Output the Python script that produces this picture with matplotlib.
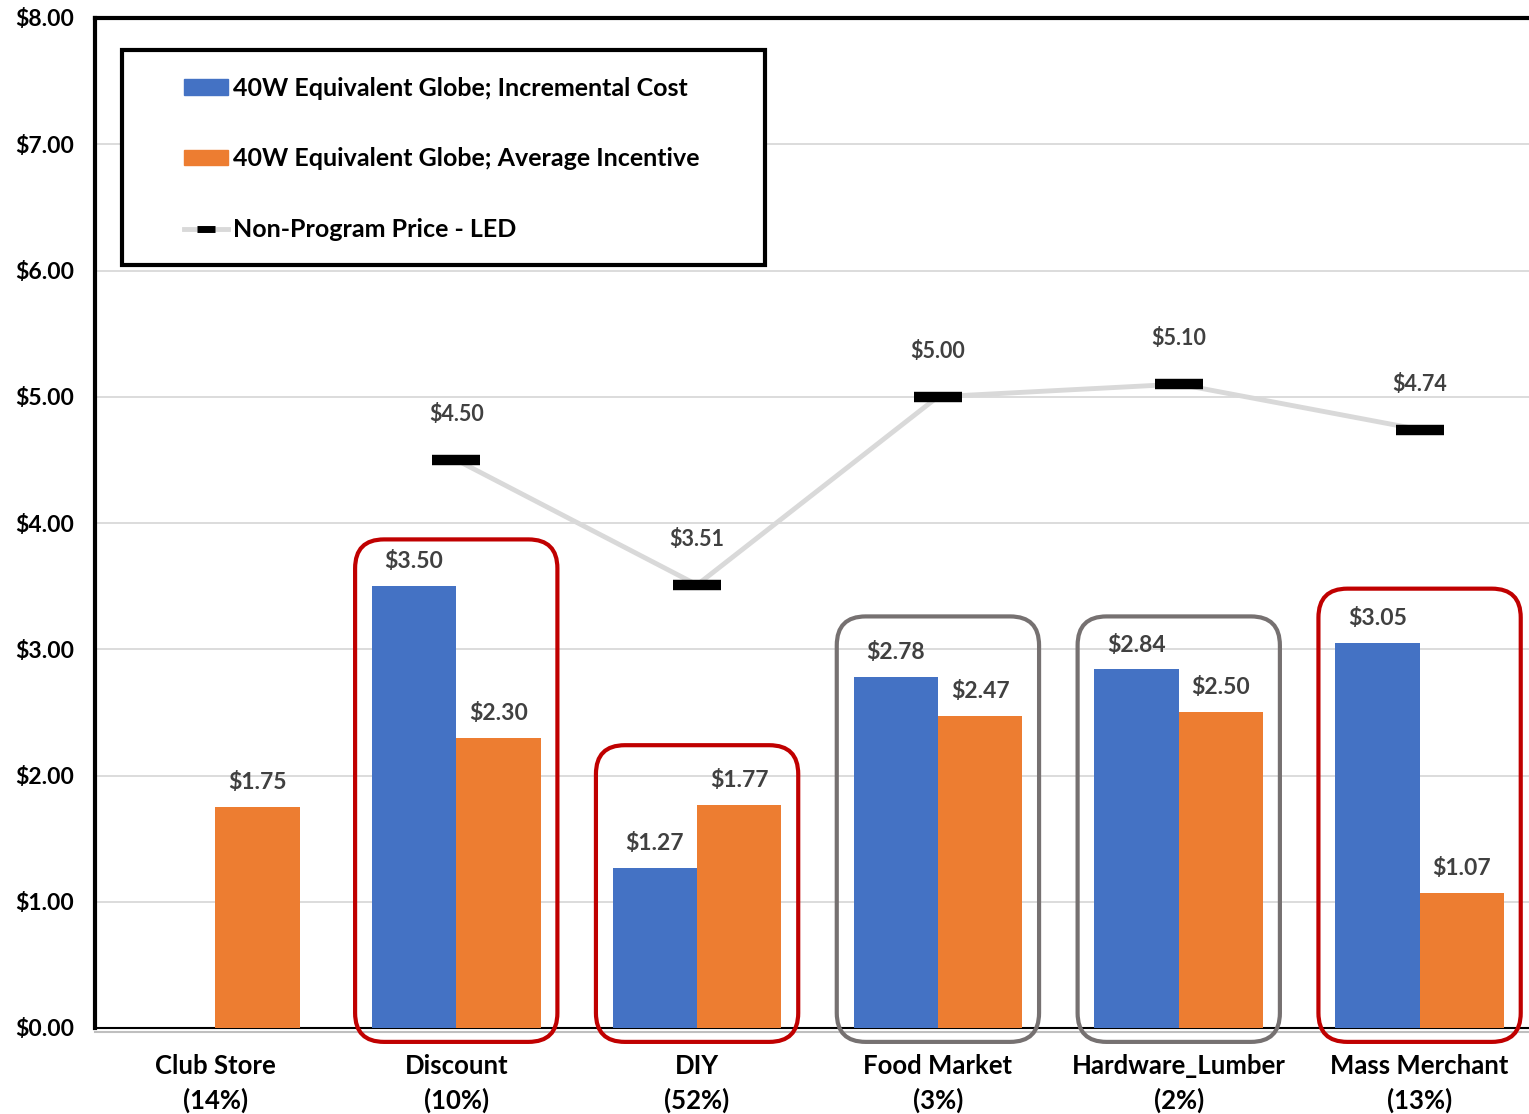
import numpy as np
import matplotlib.pyplot as plt
from matplotlib.patches import FancyBboxPatch, Patch, Rectangle
from matplotlib.lines import Line2D

plt.rcParams['font.family'] = ['Lato', 'DejaVu Sans']

categories = ['Club Store\n(14%)', 'Discount\n(10%)', 'DIY\n(52%)',
              'Food Market\n(3%)', 'Hardware_Lumber\n(2%)', 'Mass Merchant\n(13%)']
incremental_cost = [np.nan, 3.50, 1.27, 2.78, 2.84, 3.05]
avg_incentive = [1.75, 2.30, 1.77, 2.47, 2.50, 1.07]
non_program_price = [np.nan, 4.50, 3.51, 5.00, 5.10, 4.74]
# highlight boxes: category index, top of box ($), colour
box_cats = [1, 2, 3, 4, 5]
box_tops = [3.87, 2.24, 3.26, 3.26, 3.48]
box_colors = ['#C00000', '#C00000', '#767171', '#767171', '#C00000']

blue = '#4472C4'
orange = '#ED7D31'
W, H = 1529, 1114
fig = plt.figure(figsize=(W / 100, H / 100), dpi=100)
ax = fig.add_axes([95 / W, 1 - 1028 / H, (1540 - 95) / W, (1028 - 18) / H])

x = np.arange(len(categories))
bw = 0.35
ax.bar(x - bw / 2, incremental_cost, bw, color=blue, zorder=3)
ax.bar(x + bw / 2, avg_incentive, bw, color=orange, zorder=3)

for xi, v in zip(x, incremental_cost):
    if not np.isnan(v):
        ax.annotate(f'${v:.2f}', (xi - bw / 2, v), xytext=(0, 10), textcoords='offset points',
                    ha='center', va='bottom', fontsize=16.5, fontweight='bold', color='#404040')
for xi, v in zip(x, avg_incentive):
    ax.annotate(f'${v:.2f}', (xi + bw / 2, v), xytext=(0, 10), textcoords='offset points',
                ha='center', va='bottom', fontsize=16.5, fontweight='bold', color='#404040')

ax.plot(x, non_program_price, color='#d9d9d9', lw=3.5, zorder=4)
ax.plot(x, non_program_price, ls='none', marker='_', ms=34, mew=7.5, color='black', zorder=5)
for xi, v in zip(x, non_program_price):
    if not np.isnan(v):
        ax.annotate(f'${v:.2f}', (xi, v), xytext=(0, 25), textcoords='offset points',
                    ha='center', va='bottom', fontsize=15.5, fontweight='bold', color='#404040')

# rounded highlight boxes (aspect corrected so corners look round)
aspect = (1445 / 6) / (1010 / 8)
pad = 0.12
for c, top, col in zip(box_cats, box_tops, box_colors):
    y0 = -0.11 + pad * aspect
    box = FancyBboxPatch((c - 0.30, y0), 0.60, top - pad * aspect - y0,
                         boxstyle=f'round,pad={pad},rounding_size=0.12',
                         mutation_aspect=aspect, fill=False, ec=col, lw=3,
                         clip_on=False, zorder=6)
    ax.add_patch(box)

ax.set_xlim(-0.5, 5.5)
ax.set_ylim(0, 8)
ax.set_yticks(np.arange(0, 9, 1))
ax.set_yticklabels([f'${v:.2f}' for v in np.arange(0, 9, 1)])
ax.set_xticks(x)
ax.set_xticklabels(categories, linespacing=1.45)
ax.tick_params(axis='y', length=0, labelsize=16.5, pad=15)
ax.tick_params(axis='x', length=0, pad=19, labelsize=18.5)
for lbl in ax.get_xticklabels() + ax.get_yticklabels():
    lbl.set_fontweight('bold')
ax.grid(axis='y', color='#d9d9d9', lw=1.3, zorder=0)
ax.spines['top'].set_linewidth(3)
ax.spines['left'].set_linewidth(3)
ax.spines['bottom'].set_linewidth(1.5)
ax.spines['right'].set_visible(False)
ax.axhline(-0.03, color='#bfbfbf', lw=1.5, clip_on=False, zorder=2)

handles = [Patch(color=blue), Patch(color=orange),
           Line2D([], [], color='#d9d9d9', lw=3.5, marker='_', ms=13, mew=5, mec='black')]
labels = ['40W Equivalent Globe; Incremental Cost', '40W Equivalent Globe; Average Incentive',
          'Non-Program Price - LED']
leg = ax.legend(handles, labels, loc='upper left', bbox_to_anchor=(0.0616, 0.942),
                prop={'weight': 'bold', 'size': 18}, frameon=False,
                labelspacing=1.91, borderpad=0, handlelength=1.76, handleheight=0.6,
                handletextpad=0.2, borderaxespad=0, numpoints=1)
leg.set_zorder(10)
ax.add_patch(Rectangle((0.0187, 0.7554), 0.4449, 0.2129, transform=ax.transAxes,
                       fill=True, fc='white', ec='black', lw=3, zorder=9))

fig.savefig('out.png', dpi=100)
